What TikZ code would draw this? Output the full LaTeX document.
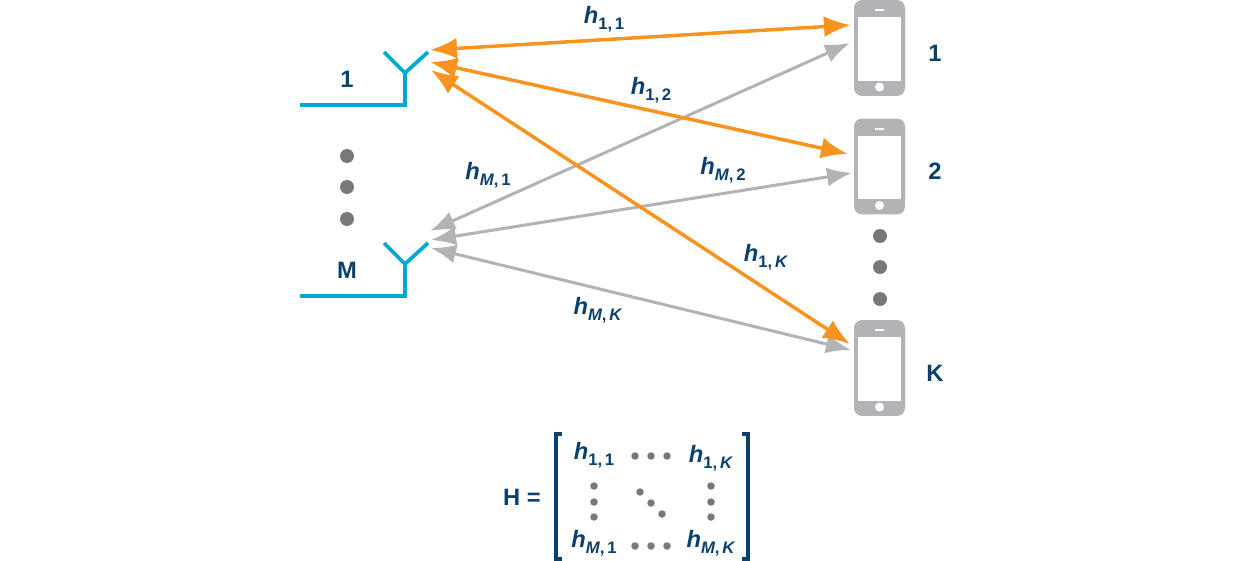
\documentclass[tikz,border=0pt]{standalone}
\usepackage{fontspec}
\setmainfont{Liberation Sans}
\usetikzlibrary{arrows.meta}
\definecolor{navy}{HTML}{0B3F6C}
\definecolor{cyanant}{HTML}{00A9CE}
\definecolor{orangelink}{HTML}{F7931E}
\definecolor{greylink}{HTML}{B1B3B6}
\definecolor{greydot}{HTML}{77787B}
\newcommand{\hlab}[2]{\textit{h}\raisebox{-0.45ex}{\fontsize{9.5}{10}\selectfont #1,\,#2}}
\tikzset{
  lab/.style={text=navy,font=\fontsize{13.5}{15}\bfseries\selectfont,inner sep=0pt},
  hname/.style={text=navy,font=\fontsize{13.5}{15}\bfseries\selectfont,inner sep=0pt},
  orangearrow/.style={draw=orangelink,line width=0.07cm,{Latex[length=0.54cm,width=0.42cm]}-{Latex[length=0.54cm,width=0.42cm]}},
  greyarrow/.style={draw=greylink,line width=0.06cm,{Latex[length=0.5cm,width=0.38cm]}-{Latex[length=0.5cm,width=0.38cm]}},
  antenna/.style={draw=cyanant,line width=0.075cm,miter limit=2},
  bigdot/.style={circle,fill=greydot,inner sep=0pt,minimum size=0.28cm},
  smalldot/.style={circle,fill=greydot,inner sep=0pt,minimum size=0.15cm},
  phonebody/.style={fill=greylink,rounded corners=0.16cm,inner sep=0pt,minimum width=1.02cm,minimum height=1.92cm},
  phonescreen/.style={fill=white,inner sep=0pt,minimum width=0.86cm,minimum height=1.28cm},
  bracket/.style={draw=navy,line width=0.07cm}
}
\begin{document}
\begin{tikzpicture}[x=0.02cm,y=-0.02cm]
\useasboundingbox (0,0) rectangle (1245,561);
% antennas
\foreach \y/\t in {0/1,191/M} {
  \draw[antenna] (300,105+\y) -- (405,105+\y) -- (405,73+\y);
  \draw[antenna] (384,52+\y) -- (405,73+\y) -- (428,52+\y);
  \node[lab] (ant\t) at (347,79+\y) {\t};
}
\foreach \y [count=\i] in {156,187,219} \node[bigdot] (antdot\i) at (347,\y) {};
% phones
\foreach \y/\t/\n in {48/1/a,166.5/2/b,368/K/c} {
  \node[phonebody] (phone\n) at (879.5,\y) {};
  \node[phonescreen] (screen\n) at (879.5,\y+1) {};
  \node[circle,fill=white,inner sep=0pt,minimum size=0.18cm] (home\n) at (879.5,\y+39) {};
  \node[fill=white,inner sep=0pt,minimum width=0.18cm,minimum height=0.04cm] (speaker\n) at (879.5,\y-38) {};
  \node[lab] (num\n) at (935,\y+5) {\t};
}
\foreach \y [count=\i] in {236,267,299} \node[bigdot] (phonedot\i) at (880,\y) {};
% end points of the links
\coordinate (o1) at (430,50);   \coordinate (o1e) at (851,25);
\coordinate (o2) at (430,62);   \coordinate (o2e) at (848,154);
\coordinate (o3) at (431,70);   \coordinate (o3e) at (850,344);
\coordinate (g1) at (430,231);  \coordinate (g1e) at (850,43);
\coordinate (g2) at (431,240);  \coordinate (g2e) at (852,173);
\coordinate (g3) at (431,248);  \coordinate (g3e) at (851,350);
% links
\draw[greyarrow] (g1) -- (g1e);
\draw[greyarrow] (g2) -- (g2e);
\draw[greyarrow] (g3) -- (g3e);
\draw[orangearrow] (o1) -- (o1e);
\draw[orangearrow] (o2) -- (o2e);
\draw[orangearrow] (o3) -- (o3e);
% link labels
\node[hname] (h11) at (604,19) {\hlab{1}{1}};
\node[hname] (h12) at (651,90) {\hlab{1}{2}};
\node[hname] (hm1) at (488,175) {\hlab{\textit{M}}{1}};
\node[hname] (hm2) at (723,170) {\hlab{\textit{M}}{2}};
\node[hname] (h1k) at (766,257) {\hlab{1}{\textit{K}}};
\node[hname] (hmk) at (598,310) {\hlab{\textit{M}}{\textit{K}}};
% matrix
\node[lab] (hmat) at (522,497) {H =};
\draw[bracket] (562,434) -- (556,434) -- (556,559) -- (562,559);
\draw[bracket] (742,434) -- (748,434) -- (748,559) -- (742,559);
\node[hname] (m11) at (594,455) {\hlab{1}{1}};
\node[hname] (m1k) at (711,458) {\hlab{1}{\textit{K}}};
\node[hname] (mm1) at (594,543) {\hlab{\textit{M}}{1}};
\node[hname] (mmk) at (711,543) {\hlab{\textit{M}}{\textit{K}}};
\foreach \x [count=\i] in {635,651,667} {
  \node[smalldot] (top\i) at (\x,456) {};
  \node[smalldot] (bot\i) at (\x,546) {};
}
\foreach \y [count=\i] in {486,502,517} {
  \node[smalldot] (lft\i) at (594,\y) {};
  \node[smalldot] (rgt\i) at (711,\y) {};
}
\foreach \x/\y [count=\i] in {640/492,651/503,662/514} \node[smalldot] (dia\i) at (\x,\y) {};
\end{tikzpicture}
\end{document}
